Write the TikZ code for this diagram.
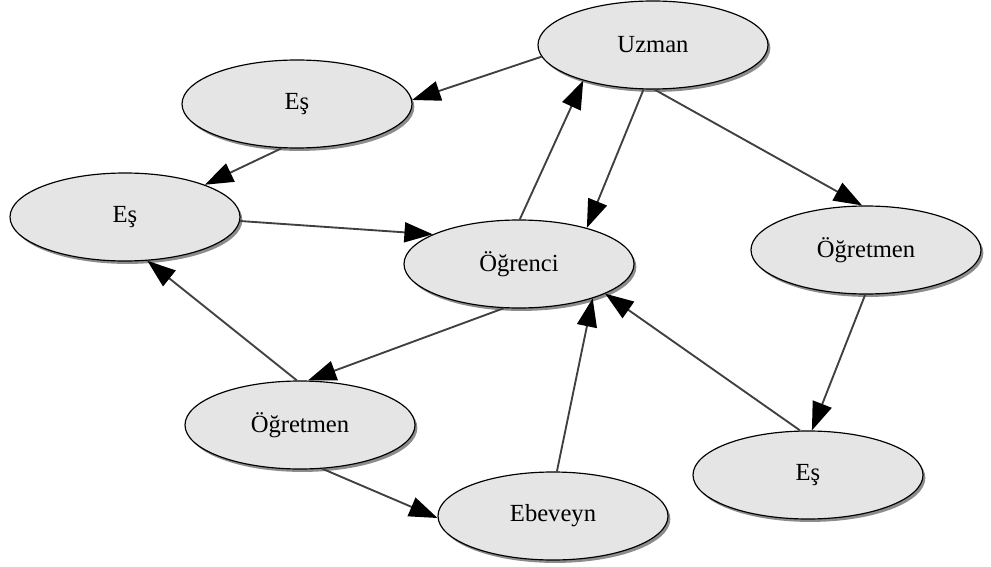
\documentclass[tikz,border=0pt]{standalone}
\usepackage{fontspec}
\setmainfont{Liberation Serif}
\usetikzlibrary{shapes.geometric,arrows.meta,shadows}
\tikzset{
    kisi/.style={ellipse, draw=black, line width=1pt, fill=black!10,
        minimum width=6.9cm, minimum height=2.64cm, inner sep=0pt,
        font=\fontsize{21}{24}\selectfont,
        drop shadow={shadow xshift=2pt, shadow yshift=-2.5pt, fill=black!45, opacity=1}},
    ok/.style={draw=black!75, line width=1.6pt,
        -{Triangle[length=0.85cm, width=0.6cm, color=black]}}
}

\begin{document}
\begin{tikzpicture}[x=0.03cm, y=-0.03cm]
    \useasboundingbox (0,0) rectangle (991,567);
    % kisiler
    \node[kisi] (uzman)     at (653,45)  {Uzman};
    \node[kisi] (esA)       at (297,104) {Eş};
    \node[kisi] (esB)       at (125,217) {Eş};
    \node[kisi] (ogrenci)   at (519,264) {Öğrenci};
    \node[kisi] (ogretmenR) at (866,250) {Öğretmen};
    \node[kisi] (ogretmenL) at (300,425) {Öğretmen};
    \node[kisi] (esC)       at (808,475) {Eş};
    \node[kisi] (ebeveyn)   at (553,516) {Ebeveyn};
    % oklar
    \draw[ok] (uzman.186)     -- (esA.2);
    \draw[ok] (esA.251)       -- (esB.22);
    \draw[ok] (esB.358)       -- (ogrenci.161);
    \draw[ok] (ogrenci.89)    -- (uzman.207);
    \draw[ok] (uzman.258)     -- (ogrenci.28);
    \draw[ok] (uzman.272)     -- (ogretmenR.95);
    \draw[ok] (ogretmenR.269) -- (esC.85);
    \draw[ok] (esC.100)       -- (ogrenci.341);
    \draw[ok] (ebeveyn.85)    -- (ogrenci.335);
    \draw[ok] (ogrenci.251)   -- (ogretmenL.80);
    \draw[ok] (ogretmenL.94)  -- (esB.297);
    \draw[ok] (ogretmenL.297) -- (ebeveyn.181);
\end{tikzpicture}
\end{document}
